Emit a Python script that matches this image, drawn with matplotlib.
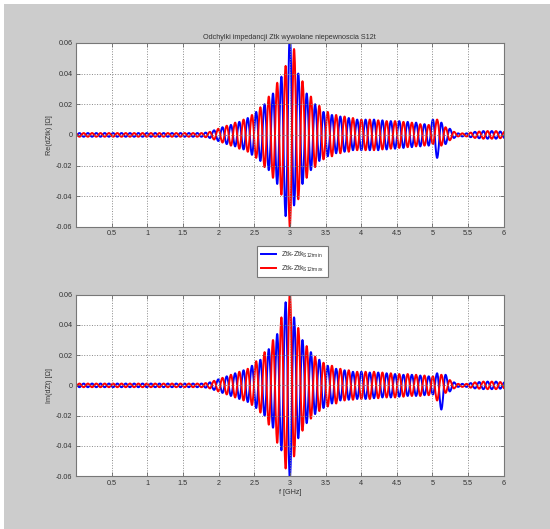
import numpy as np
import matplotlib
matplotlib.use('Agg')
import matplotlib.pyplot as plt
from matplotlib.patches import Rectangle, PathPatch
from matplotlib.path import Path
from matplotlib.lines import Line2D

plt.rcParams['font.family'] = ['Liberation Sans', 'DejaVu Sans']
plt.rcParams['mathtext.fontset'] = 'custom'
plt.rcParams['mathtext.rm'] = 'Liberation Sans'

# extrema of the oscillation: centre at 3 GHz, half period in GHz
CENTER_F = 3.0
HALF_PERIOD = 0.059
ext_index = np.arange(-1, 103)

tail = [0.001, 0.001, 0.001, 0.0015, 0.002, 0.0022, 0.0025, 0.0025, 0.0025, 0.0025, 0.0022, 0.002, 0.002]

# |Re(dZtk)| at each extremum, Ztk-Ztk S12tmin (blue)
re_min_amp = ([0.0012] * 31 +
              [0.0015, 0.002, 0.003, 0.004, 0.005, 0.006, 0.0065, 0.0075, 0.0085, 0.0095] +
              [0.011, 0.013, 0.015, 0.017, 0.020, 0.023, 0.027, 0.032, 0.038, 0.053] +
              [0.066, 0.046, 0.040, 0.032, 0.027, 0.023, 0.020, 0.017, 0.015, 0.014] +
              [0.013, 0.012, 0.012, 0.011, 0.011, 0.010, 0.010, 0.010, 0.010, 0.010] +
              [0.010, 0.010, 0.0095, 0.0095, 0.009, 0.009, 0.009, 0.0085, 0.0085, 0.008] +
              [0.008, 0.0075, 0.007, 0.007, 0.010, 0.015, 0.008, 0.006, 0.004, 0.002] +
              tail)

# |Re(dZtk)| at each extremum, Ztk-Ztk S12tmax (red)
re_max_amp = ([0.0012] * 31 +
              [0.0015, 0.002, 0.003, 0.004, 0.005, 0.006, 0.007, 0.008, 0.009, 0.010] +
              [0.011, 0.013, 0.015, 0.018, 0.021, 0.025, 0.028, 0.034, 0.039, 0.045] +
              [0.060, 0.056, 0.042, 0.035, 0.028, 0.025, 0.021, 0.019, 0.016, 0.015] +
              [0.014, 0.013, 0.012, 0.012, 0.011, 0.011, 0.010, 0.010, 0.010, 0.010] +
              [0.010, 0.0095, 0.0095, 0.009, 0.009, 0.009, 0.0085, 0.0085, 0.008, 0.008] +
              [0.0075, 0.007, 0.007, 0.0065, 0.006, 0.010, 0.007, 0.005, 0.0035, 0.002] +
              tail)

# |Im(dZt)| at each extremum, blue
im_min_amp = ([0.0012] * 31 +
              [0.0015, 0.002, 0.003, 0.004, 0.005, 0.006, 0.007, 0.008, 0.009, 0.010] +
              [0.011, 0.013, 0.015, 0.017, 0.020, 0.024, 0.028, 0.034, 0.043, 0.055] +
              [0.062, 0.045, 0.035, 0.030, 0.025, 0.022, 0.019, 0.017, 0.015, 0.013] +
              [0.012, 0.011, 0.010, 0.010, 0.0095, 0.009, 0.009, 0.009, 0.009, 0.0085] +
              [0.0085, 0.0085, 0.008, 0.008, 0.008, 0.0075, 0.0075, 0.007, 0.007, 0.007] +
              [0.007, 0.0065, 0.0065, 0.006, 0.006, 0.008, 0.016, 0.007, 0.004, 0.002] +
              tail)

# |Im(dZt)| at each extremum, red
im_max_amp = ([0.0012] * 31 +
              [0.0015, 0.002, 0.003, 0.004, 0.005, 0.006, 0.007, 0.008, 0.009, 0.010] +
              [0.011, 0.013, 0.016, 0.018, 0.022, 0.026, 0.030, 0.038, 0.045, 0.055] +
              [0.062, 0.047, 0.038, 0.030, 0.026, 0.022, 0.019, 0.017, 0.015, 0.014] +
              [0.013, 0.012, 0.011, 0.010, 0.010, 0.0095, 0.009, 0.009, 0.009, 0.009] +
              [0.009, 0.0085, 0.0085, 0.008, 0.008, 0.008, 0.0075, 0.0075, 0.0075, 0.007] +
              [0.007, 0.007, 0.0065, 0.0065, 0.006, 0.010, 0.007, 0.005, 0.0035, 0.002] +
              tail)

x_ticks = [0.5, 1, 1.5, 2, 2.5, 3, 3.5, 4, 4.5, 5, 5.5, 6]
y_ticks = [-0.06, -0.04, -0.02, 0, 0.02, 0.04, 0.06]

title = 'Odchylki impedancji Ztk wywolane niepewnoscia S12t'
labels = [r'Ztk-Ztk$_{\mathrm{S12tmin}}$', r'Ztk-Ztk$_{\mathrm{S12tmax}}$']

BG = '#cccccc'
TXT = '#333333'
BLUE = '#0000ff'
RED = '#ff0000'
LW = 1.4


def smooth_through_extrema(ax, x, y, color):
    # cubic Bezier between neighbouring extrema, flat tangent at each extremum
    c = 0.364
    verts = [(x[0], y[0])]
    codes = [Path.MOVETO]
    for i in range(len(x) - 1):
        dx = x[i + 1] - x[i]
        verts += [(x[i] + c * dx, y[i]), (x[i + 1] - c * dx, y[i + 1]), (x[i + 1], y[i + 1])]
        codes += [Path.CURVE4] * 3
    ax.add_patch(PathPatch(Path(verts, codes), facecolor='none', edgecolor=color,
                           lw=LW, capstyle='round', joinstyle='round'))


def style_axes(ax, ylabel):
    ax.set_facecolor('white')
    ax.set_xlim(0, 6)
    ax.set_ylim(-0.06, 0.06)
    ax.set_xticks(x_ticks)
    ax.set_xticklabels([f'{v:g}' for v in x_ticks])
    ax.set_yticks(y_ticks)
    ax.set_yticklabels([f'{v:g}' for v in y_ticks])
    ax.grid(True, linestyle=':', color='#888888', linewidth=0.7)
    ax.tick_params(direction='in', length=3, width=0.6, top=True, right=True,
                   labelsize=5.2, pad=2.5, color='#666666', labelcolor=TXT)
    for spine in ax.spines.values():
        spine.set_color('#777777')
        spine.set_linewidth(0.8)
    ax.set_ylabel(ylabel, fontsize=5.2, color=TXT, labelpad=2)


f_ext = CENTER_F + (ext_index - 50) * HALF_PERIOD
alt = np.where(ext_index % 2 == 0, 1.0, -1.0)

fig = plt.figure(figsize=(5.5, 5.29), dpi=100, facecolor=BG)
# white strips at the left and top edge of the screenshot
fig.patches.append(Rectangle((0, 0), 4 / 550, 1, transform=fig.transFigure,
                             facecolor='white', edgecolor='none', zorder=-5))
fig.patches.append(Rectangle((0, 1 - 4 / 529), 1, 4 / 529, transform=fig.transFigure,
                             facecolor='white', edgecolor='none', zorder=-5))

ax_re = fig.add_axes([0.138, 0.571, 0.778, 0.348])
ax_im = fig.add_axes([0.138, 0.100, 0.778, 0.343])

smooth_through_extrema(ax_re, f_ext, alt * np.array(re_min_amp), BLUE)
smooth_through_extrema(ax_re, f_ext, -alt * np.array(re_max_amp), RED)
smooth_through_extrema(ax_im, f_ext, -alt * np.array(im_min_amp), BLUE)
smooth_through_extrema(ax_im, f_ext, alt * np.array(im_max_amp), RED)

style_axes(ax_re, 'Re(dZtk) [Ω]')
style_axes(ax_im, 'Im(dZt) [Ω]')
ax_re.set_title(title, fontsize=5.2, color=TXT, pad=3)
ax_im.set_xlabel('f [GHz]', fontsize=5.2, color=TXT, labelpad=2)

handles = [Line2D([], [], color=BLUE, lw=LW), Line2D([], [], color=RED, lw=LW)]
leg = fig.legend(handles, labels, loc='center', bbox_to_anchor=(0.532, 0.505),
                 fontsize=5, fancybox=False, framealpha=1, edgecolor='#777777',
                 handlelength=2.2, borderpad=0.5, labelspacing=0.5)
leg.get_frame().set_linewidth(0.8)
for t in leg.get_texts():
    t.set_color(TXT)

fig.savefig('out.png', dpi=100, facecolor=fig.get_facecolor())
